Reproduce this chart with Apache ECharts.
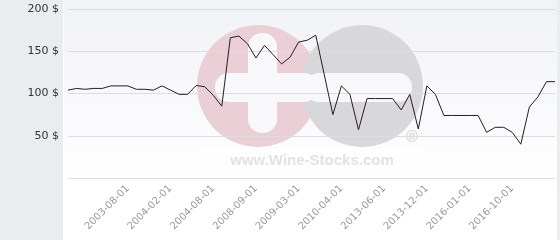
<!DOCTYPE html>
<html>
<head>
<meta charset="utf-8">
<script src="https://cdn.jsdelivr.net/npm/echarts@6/dist/echarts.min.js"></script>
<style>
  html, body { margin: 0; padding: 0; background: #ffffff; }
  #chart { width: 560px; height: 240px; }
</style>
</head>
<body>
<div id="chart"></div>
<script>
const categories = [
  '2003-01-01','2003-02-01','2003-03-01','2003-04-01','2003-05-01','2003-06-01','2003-07-01','2003-08-01','2003-09-01','2003-10-01',
  '2003-11-01','2003-12-01','2004-02-01','2004-03-01','2004-04-01','2004-05-01','2004-06-01','2004-08-01','2004-10-01','2007-06-01',
  '2007-10-01','2008-02-01','2008-09-01','2008-10-01','2008-11-01','2008-12-01','2009-01-01','2009-03-01','2009-05-01','2009-07-01',
  '2009-10-01','2010-01-01','2010-04-01','2010-09-01','2011-06-01','2012-03-01','2012-10-01','2013-06-01','2013-07-01','2013-08-01',
  '2013-09-01','2013-10-01','2013-12-01','2014-03-01','2014-09-01','2015-01-01','2015-06-01','2016-01-01','2016-02-01','2016-04-01',
  '2016-05-01','2016-07-01','2016-10-01','2016-12-01','2017-03-01','2017-06-01','2017-09-01','2017-12-01'
];
const prices = [
  104, 106, 105, 106, 106, 109, 109, 109, 105, 105,
  104, 109, 104, 99, 99, 109.5, 108, 98, 85, 166,
  168, 159, 142, 157, 146, 135, 143, 161, 163, 169,
  122, 75, 109, 99, 57, 94, 94, 94, 94, 80.5,
  99, 58, 109, 99, 74, 74, 74, 74, 74, 54,
  60, 60, 54, 40, 84, 96, 114, 114
];
const tickLabels = ['2003-08-01','2004-02-01','2004-08-01','2008-09-01','2009-03-01','2010-04-01','2013-06-01','2013-12-01','2016-01-01','2016-10-01'];
const yTicks = { min: 0, max: 200, interval: 50 };

const chart = echarts.init(document.getElementById('chart'), null, { renderer: 'canvas' });

chart.setOption({
  animation: false,
  backgroundColor: '#ffffff',
  graphic: [
    { type: 'rect', z: -20, silent: true, shape: { x: 0, y: 0, width: 63, height: 240 }, style: { fill: '#e9edf0' } },
    { type: 'rect', z: -20, silent: true, shape: { x: 557, y: 0, width: 3, height: 240 }, style: { fill: '#e9edf0' } },
    { type: 'rect', z: -20, silent: true, shape: { x: 64, y: 0, width: 493, height: 240 },
      style: { fill: new echarts.graphic.LinearGradient(0, 0, 0, 1, [
        { offset: 0, color: '#f1f2f6' }, { offset: 0.8, color: '#ffffff' }, { offset: 1, color: '#ffffff' }
      ]) } },
    { type: 'circle', z: -10, silent: true, shape: { cx: 258, cy: 86, r: 61 }, style: { fill: '#eacfd6' } },
    { type: 'circle', z: -10, silent: true, shape: { cx: 362, cy: 86, r: 61 }, style: { fill: '#d8d8db' } },
    { type: 'rect', z: -9, silent: true, shape: { x: 215, y: 73, width: 103, height: 29, r: 14 }, style: { fill: '#f8f8fa' } },
    { type: 'rect', z: -9, silent: true, shape: { x: 305, y: 73, width: 107, height: 29, r: 14 }, style: { fill: '#f8f8fa' } },
    { type: 'rect', z: -9, silent: true, shape: { x: 248, y: 33, width: 29, height: 100, r: 14 }, style: { fill: '#f8f8fa' } },
    { type: 'rect', z: -9, silent: true, shape: { x: 197, y: 148, width: 230, height: 26 }, style: { fill: 'rgba(255,255,255,0.6)' } },
    { type: 'text', z: -8, silent: true, x: 312, y: 161,
      style: { text: 'www.Wine-Stocks.com', fill: '#e2e2e4', font: 'bold 15px "Liberation Sans", Arial, sans-serif', align: 'center', verticalAlign: 'middle' } },
    { type: 'text', z: -8, silent: true, x: 412, y: 138,
      style: { text: '®', fill: '#d6d6d8', font: 'bold 16px "Liberation Sans", Arial, sans-serif', align: 'center', verticalAlign: 'middle' } }
  ],
  grid: { left: 68, right: 5, top: 9, bottom: 62, containLabel: false },
  xAxis: {
    type: 'category',
    data: categories,
    boundaryGap: false,
    axisLine: { show: false },
    axisTick: { show: false },
    splitLine: { show: false },
    axisLabel: {
      interval: function (idx, name) { return tickLabels.indexOf(name) !== -1; },
      rotate: 45,
      margin: 9,
      color: '#999999',
      fontSize: 10,
      fontFamily: 'DejaVu Sans'
    }
  },
  yAxis: {
    type: 'value',
    min: yTicks.min,
    max: yTicks.max,
    interval: yTicks.interval,
    axisLine: { show: false },
    axisTick: { show: false },
    splitLine: { show: true, lineStyle: { color: '#dddddd', width: 1 } },
    axisLabel: {
      margin: 9,
      color: '#333333',
      fontSize: 11,
      fontFamily: 'DejaVu Sans',
      formatter: function (v) { return v === 0 ? '' : v + ' $'; }
    }
  },
  series: [{
    type: 'line',
    data: prices,
    showSymbol: false,
    symbol: 'none',
    lineStyle: { color: '#2b1a24', width: 1 },
    z: 5
  }]
});
</script>
</body>
</html>
